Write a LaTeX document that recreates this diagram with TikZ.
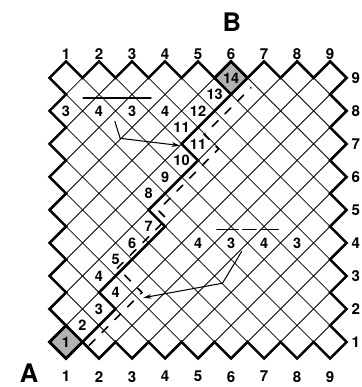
\documentclass[tikz,border=0pt]{standalone}
\usepackage{fontspec}
\setmainfont{TeX Gyre Heros}
\usetikzlibrary{arrows.meta}
\tikzset{
  gridline/.style={line width=0.7pt},
  outline/.style={line width=2.2pt, line join=miter},
  pathline/.style={line width=2.2pt, line join=miter},
  altpath/.style={line width=1.4pt, dash pattern=on 0.25cm off 0.3cm},
  cellnum/.style={font=\bfseries\fontsize{12.5}{12.5}\selectfont, inner sep=0pt},
  axisnum/.style={font=\bfseries\fontsize{13}{13}\selectfont, inner sep=0pt},
  endlabel/.style={font=\bfseries\fontsize{22}{22}\selectfont, inner sep=0pt},
  shaded/.style={fill=black!30, line width=2.2pt}
}
\begin{document}
\begin{tikzpicture}[x=1cm, y=1cm, >={Stealth[length=7pt, width=4pt]}, line cap=round]
  \useasboundingbox (-1,-0.364) rectangle (9.94,11.36);
  % diagonal grid
  \begin{scope}
    \clip (0.5,0.5) rectangle (9.5,9.5);
    \foreach \c in {1.5,2.5,...,18.5}
      \draw[gridline] ({\c-10},10) -- (10,{\c-10});
    \foreach \c in {-8.5,-7.5,...,8.5}
      \draw[gridline] ({\c-1},-1) -- ({\c+11},11);
  \end{scope}
  % start and end cells
  \draw[shaded] (1,0.5) -- (1.5,1) -- (1,1.5) -- (0.5,1) -- cycle;
  \draw[shaded] (6,8.5) -- (6.5,9) -- (6,9.5) -- (5.5,9) -- cycle;
  % outer border
  \draw[outline] (0.5,1)
    \foreach \i in {1,...,9} { -- (\i,0.5) -- ({\i+0.5},1) }
    \foreach \j in {1,...,8} { -- (9,{\j+0.5}) -- (9.5,{\j+1}) }
    \foreach \i in {9,8,...,1} { -- (\i,9.5) -- ({\i-0.5},9) }
    \foreach \j in {8,7,...,1} { -- (1,{\j+0.5}) -- (0.5,\j) } -- cycle;
  % axis labels
  \foreach \i in {1,...,9} {
    \node[axisnum] (top\i) at (\i,9.73) {\i};
    \node[axisnum] (bot\i) at (\i,-0.05) {\i};
    \node[axisnum] (row\i) at (9.78,\i) {\i};
  }
  \node[endlabel] (A) at (-0.12,0.04) {A};
  \node[endlabel] (B) at (6.02,10.7) {B};
  % path cells
  \foreach \x/\y/\n in {1/1/1, 1.5/1.5/2, 2/2/3, 2.5/2.5/4, 2/3/4, 2.5/3.5/5, 3/4/6,
      3.5/4.5/7, 3.5/5.5/8, 4/6/9, 4.5/6.5/10, 5/7/11, 4.5/7.5/11, 5/8/12,
      5.5/8.5/13, 6/9/14}
    \node[cellnum] at (\x,\y) {\n};
  % repeats
  \foreach \x/\n in {1/3, 2/4, 3/3, 4/4}
    \node[cellnum] (up\x) at (\x,8) {\n};
  \foreach \x/\n in {5/4, 6/3, 7/4, 8/3}
    \node[cellnum] (low\x) at (\x,4) {\n};
  % alignment path
  \draw[pathline] (1.5,1) -- (2.5,2) -- (2,2.5) -- (4,4.5) -- (3.5,5)
    -- (5,6.5) -- (4.5,7) -- (6,8.5);
  \draw[altpath] (1.7,0.9) -- (3.3,2.5) -- (2.56,3.24) -- (4.05,4.73)
    -- (3.79,4.99) -- (5.62,6.85) -- (5.185,7.285) -- (6.6,8.7);
  % unit marks
  \coordinate (u1) at (1.52,8.4);
  \coordinate (u2) at (3.57,8.4);
  \draw[line width=1.4pt] (u1) -- (u2);
  \coordinate (v1) at (5.57,4.4);
  \coordinate (v2) at (7.43,4.4);
  \draw[line width=1.1pt, dash pattern=on 0.65cm off 0.13cm on 0.41cm off 0.12cm] (v1) -- (v2);
  % arrows
  \coordinate (p1) at (2.48,7.68);
  \coordinate (p2) at (2.64,7.17);
  \coordinate (p3) at (4.45,6.95);
  \draw[->, line width=0.9pt] (p1) -- (p2) -- (p3);
  \coordinate (q1) at (6.32,3.74);
  \coordinate (q2) at (5.74,2.78);
  \coordinate (q3) at (3.34,2.34);
  \draw[->, line width=0.9pt] (q1) -- (q2) -- (q3);
\end{tikzpicture}
\end{document}
